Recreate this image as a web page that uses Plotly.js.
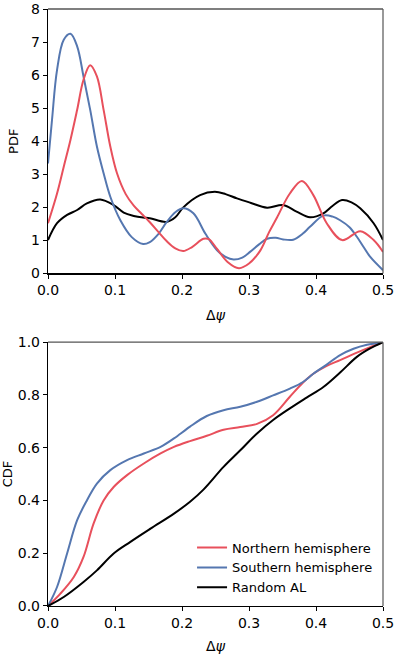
<!DOCTYPE html>
<html>
<head>
<meta charset="utf-8">
<script src="https://cdn.plot.ly/plotly-3.0.1.min.js"></script>
<style>
  html, body { margin: 0; padding: 0; background: #fff; }
  #chart { width: 396px; height: 654px; }
</style>
</head>
<body>
<div id="chart"></div>
<script>
// Kernel density (PDF) of the phase difference, per group
const pdfNorthX = [0, 0.0135, 0.0235, 0.0335, 0.0435, 0.053, 0.063, 0.073, 0.083, 0.093, 0.103, 0.116, 0.128, 0.14, 0.152, 0.165, 0.177, 0.19, 0.202, 0.215, 0.232, 0.24, 0.252, 0.268, 0.285, 0.3, 0.317, 0.33, 0.342, 0.361, 0.379, 0.396, 0.416, 0.439, 0.466, 0.486, 0.5];
const pdfNorthY = [1.52, 2.42, 3.23, 4.04, 4.95, 5.86, 6.3, 5.96, 4.95, 3.84, 3.03, 2.4, 2.05, 1.8, 1.55, 1.25, 0.98, 0.76, 0.68, 0.8, 1.05, 1.04, 0.75, 0.35, 0.16, 0.3, 0.7, 1.25, 1.7, 2.42, 2.8, 2.37, 1.52, 1.01, 1.28, 1.01, 0.65];

const pdfSouthX = [0, 0.006, 0.0135, 0.0235, 0.0335, 0.0435, 0.053, 0.063, 0.073, 0.083, 0.093, 0.108, 0.125, 0.142, 0.152, 0.165, 0.177, 0.19, 0.202, 0.217, 0.235, 0.252, 0.265, 0.277, 0.29, 0.302, 0.315, 0.327, 0.34, 0.351, 0.366, 0.38, 0.391, 0.411, 0.425, 0.436, 0.45, 0.461, 0.471, 0.481, 0.5];
const pdfSouthY = [3.33, 4.65, 6.16, 7.07, 7.25, 6.87, 5.96, 4.95, 3.84, 3.03, 2.32, 1.61, 1.1, 0.89, 0.95, 1.2, 1.55, 1.85, 1.97, 1.82, 1.2, 0.71, 0.5, 0.42, 0.48, 0.66, 0.88, 1.05, 1.08, 1.03, 1.02, 1.2, 1.41, 1.75, 1.72, 1.61, 1.4, 1.11, 0.8, 0.5, 0.1];

const pdfRandomX = [0, 0.0135, 0.0285, 0.0435, 0.058, 0.078, 0.098, 0.113, 0.128, 0.142, 0.152, 0.177, 0.19, 0.202, 0.227, 0.249, 0.265, 0.282, 0.302, 0.327, 0.351, 0.371, 0.391, 0.411, 0.425, 0.439, 0.453, 0.466, 0.486, 0.5];
const pdfRandomY = [1.01, 1.52, 1.77, 1.92, 2.12, 2.24, 2.07, 1.84, 1.74, 1.69, 1.67, 1.56, 1.7, 2.0, 2.37, 2.47, 2.4, 2.27, 2.14, 1.99, 2.07, 1.87, 1.7, 1.82, 2.05, 2.22, 2.15, 1.97, 1.52, 1.01];

// Cumulative distributions (CDF)
const cdfNorthX = [0, 0.0185, 0.0385, 0.053, 0.068, 0.083, 0.098, 0.118, 0.143, 0.168, 0.188, 0.212, 0.237, 0.262, 0.287, 0.312, 0.336, 0.361, 0.38, 0.396, 0.416, 0.436, 0.461, 0.48, 0.5];
const cdfNorthY = [0, 0.047, 0.11, 0.186, 0.312, 0.4, 0.451, 0.496, 0.54, 0.578, 0.603, 0.625, 0.645, 0.668, 0.678, 0.69, 0.723, 0.793, 0.845, 0.88, 0.91, 0.932, 0.96, 0.98, 1.0];

const cdfSouthX = [0, 0.0135, 0.0285, 0.0435, 0.058, 0.073, 0.093, 0.118, 0.143, 0.168, 0.188, 0.212, 0.237, 0.262, 0.287, 0.312, 0.336, 0.361, 0.38, 0.396, 0.416, 0.436, 0.456, 0.476, 0.5];
const cdfSouthY = [0, 0.072, 0.199, 0.325, 0.4, 0.464, 0.515, 0.553, 0.578, 0.603, 0.635, 0.68, 0.72, 0.742, 0.755, 0.774, 0.798, 0.824, 0.848, 0.88, 0.915, 0.951, 0.975, 0.99, 1.0];

const cdfRandomX = [0, 0.0235, 0.053, 0.073, 0.098, 0.123, 0.153, 0.188, 0.212, 0.232, 0.262, 0.287, 0.312, 0.336, 0.361, 0.386, 0.411, 0.436, 0.461, 0.48, 0.5];
const cdfRandomY = [0, 0.034, 0.091, 0.135, 0.199, 0.243, 0.293, 0.35, 0.395, 0.441, 0.527, 0.59, 0.654, 0.705, 0.749, 0.79, 0.83, 0.885, 0.944, 0.975, 1.0];

const seriesNames = ['Northern hemisphere', 'Southern hemisphere', 'Random AL'];
const seriesColors = ['#e8505c', '#5577b0', '#000000'];

const xTicks = [0, 0.1, 0.2, 0.3, 0.4, 0.5];
const xTickText = ['0.0', '0.1', '0.2', '0.3', '0.4', '0.5'];
const pdfTicks = [0, 1, 2, 3, 4, 5, 6, 7, 8];
const cdfTicks = [0, 0.2, 0.4, 0.6, 0.8, 1.0];
const cdfTickText = ['0.0', '0.2', '0.4', '0.6', '0.8', '1.0'];

const FONT = 'DejaVu Sans, sans-serif';

function line(x, y, i, axes, showLegend) {
  return {
    x: x, y: y, type: 'scatter', mode: 'lines',
    name: seriesNames[i],
    line: { color: seriesColors[i], width: 2, shape: 'spline', smoothing: 1 },
    xaxis: axes[0], yaxis: axes[1],
    showlegend: showLegend,
    hoverinfo: 'skip'
  };
}

const traces = [
  line(pdfRandomX, pdfRandomY, 2, ['x', 'y'], false),
  line(pdfSouthX, pdfSouthY, 1, ['x', 'y'], false),
  line(pdfNorthX, pdfNorthY, 0, ['x', 'y'], false),
  line(cdfNorthX, cdfNorthY, 0, ['x2', 'y2'], true),
  line(cdfSouthX, cdfSouthY, 1, ['x2', 'y2'], true),
  line(cdfRandomX, cdfRandomY, 2, ['x2', 'y2'], true)
];

const axisBase = {
  showgrid: false, zeroline: false,
  showline: true, linecolor: '#000', linewidth: 1.2,
  ticks: 'outside', ticklen: 4, tickwidth: 1, tickcolor: '#000',
  tickfont: { family: FONT, size: 14, color: '#000' }
};

const xTitle = { text: 'Δ<i>ψ</i>', font: { family: FONT, size: 14, color: '#000' }, standoff: 12 };

const layout = {
  width: 396, height: 654,
  margin: { l: 48, r: 13, t: 9, b: 48 },
  paper_bgcolor: '#fff', plot_bgcolor: '#fff',
  font: { family: FONT, size: 13, color: '#000' },
  xaxis: Object.assign({}, axisBase, {
    domain: [0, 1], anchor: 'y', range: [0, 0.5],
    tickvals: xTicks, ticktext: xTickText, title: xTitle
  }),
  yaxis: Object.assign({}, axisBase, {
    domain: [0.557, 1], anchor: 'x', range: [0, 8],
    tickvals: pdfTicks,
    title: { text: 'PDF', font: { family: FONT, size: 13, color: '#000' }, standoff: 9 }
  }),
  xaxis2: Object.assign({}, axisBase, {
    domain: [0, 1], anchor: 'y2', range: [0, 0.5],
    tickvals: xTicks, ticktext: xTickText, title: xTitle
  }),
  yaxis2: Object.assign({}, axisBase, {
    domain: [0, 0.442], anchor: 'x2', range: [0, 1],
    tickvals: cdfTicks, ticktext: cdfTickText,
    title: { text: 'CDF', font: { family: FONT, size: 13, color: '#000' }, standoff: 8 }
  }),
  shapes: [
    // upper frame edges of the PDF panel
    { type: 'line', xref: 'x domain', yref: 'y domain', x0: 0, x1: 1, y0: 1, y1: 1, line: { color: '#000', width: 1.2 } },
    { type: 'line', xref: 'x domain', yref: 'y domain', x0: 1, x1: 1, y0: 0, y1: 1, line: { color: '#555', width: 1.2 } },
    // upper frame edges of the CDF panel
    { type: 'line', xref: 'x2 domain', yref: 'y2 domain', x0: 0, x1: 1, y0: 1, y1: 1, line: { color: '#555', width: 1.2 } },
    { type: 'line', xref: 'x2 domain', yref: 'y2 domain', x0: 1, x1: 1, y0: 0, y1: 1, line: { color: '#555', width: 1.2 } }
  ],
  legend: {
    x: 0.43, xanchor: 'left', y: 0.123, yanchor: 'top',
    bgcolor: 'rgba(0,0,0,0)', borderwidth: 0,
    font: { family: FONT, size: 13, color: '#000' },
    tracegroupgap: 0
  },
  showlegend: true
};

Plotly.newPlot('chart', traces, layout, { staticPlot: true, displayModeBar: false });
</script>
</body>
</html>
